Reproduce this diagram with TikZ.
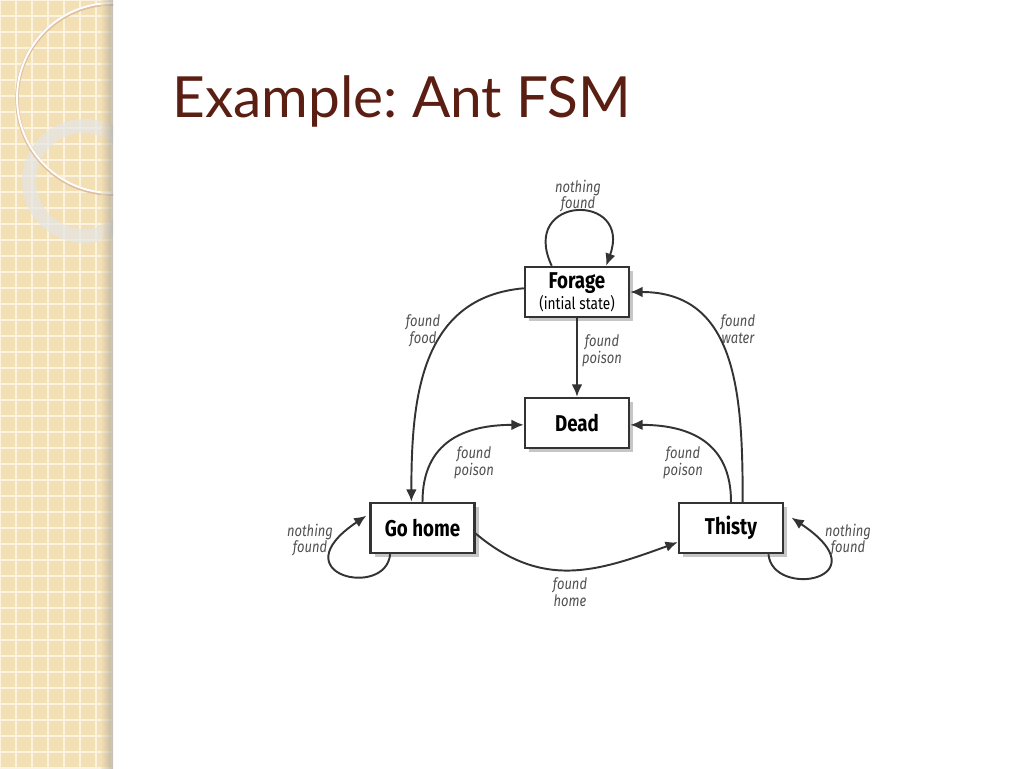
\documentclass[tikz,border=0pt]{standalone}
\usepackage{fontspec}
\usetikzlibrary{arrows.meta,shadows}
\newfontfamily\titlefont{Lato}
\newfontfamily\fsmfont[FakeStretch=0.82]{Fira Sans}
\definecolor{titlebrown}{HTML}{5A1E12}
\definecolor{stripbeige}{HTML}{F2DFB4}
\definecolor{gridcream}{HTML}{FBF3DF}
\definecolor{inkgray}{HTML}{333333}
\definecolor{labelgray}{HTML}{505050}
\tikzset{
  state/.style={draw=inkgray, line width=1.4pt, fill=white, align=center,
    minimum width=2.08cm, minimum height=1cm, inner sep=0pt,
    font=\fsmfont\bfseries\fontsize{13}{13}\selectfont,
    drop shadow={shadow xshift=2.5pt, shadow yshift=-2.5pt, opacity=0.45, fill=gray}},
  trans/.style={draw=inkgray, line width=1.1pt, -{Latex[length=7pt,width=6pt]}},
  cond/.style={text=labelgray, align=center, inner sep=0pt,
    font=\fsmfont\itshape\fontsize{9}{9.6}\selectfont},
}
\begin{document}
\begin{tikzpicture}[x=0.02cm, y=0.02cm]
  \useasboundingbox (0,0) rectangle (1024,768);
  % side strip
  \fill[stripbeige] (0,0) rectangle (113,768);
  \begin{scope}
    \clip (0,0) rectangle (113,768);
    \draw[gridcream, line width=1.2pt] (0,0) grid[step=0.32cm] (113,768);
    \draw[white!80!gray, line width=8pt, opacity=0.7] (84,587) circle (55);
    \draw[brown!50, line width=2pt] (112,669) circle (95);
    \draw[white, line width=1.1pt] (112,670) circle (95);
    \shade[left color=stripbeige, right color=black!45, opacity=0.5] (101,0) rectangle (113,768);
  \end{scope}
  % title
  \node[anchor=base west, inner sep=0pt, text=titlebrown,
    font=\titlefont\fontsize{32.3}{40}\selectfont] (title) at (172,650) {Example:\ Ant FSM};
  % states
  \node[state] (forage) at (577,476)
    {Forage\\[-1pt]{\mdseries\fontsize{9.5}{10}\selectfont (intial state)}};
  \node[state] (dead) at (577,345) {Dead};
  \node[state] (gohome) at (422.5,240) {Go home};
  \node[state] (thisty) at (731,240) {Thisty};
  % transitions
  \draw[trans] (forage.134) to[out=115, in=70, looseness=3.7] (forage.42);
  \draw[trans] (forage.176) to[out=185, in=90, looseness=1.1] (gohome.113);
  \draw[trans] (forage) -- (dead);
  \draw[trans] (gohome.north) to[out=90, in=180, looseness=1.2] (dead.182);
  \draw[trans] (thisty.north) to[out=90, in=0, looseness=1.2] (dead.-2);
  \draw[trans] (thisty.66) to[out=90, in=0, looseness=1.15] (forage.east);
  \draw[trans] (gohome.-6) to[out=-40, in=200, looseness=1.1] (thisty.195);
  \draw[trans, shorten >=2pt] (gohome.219) .. controls +(-4,-45) and +(-91,-61) .. (gohome.165);
  \draw[trans, shorten >=5pt] (thisty.-35) .. controls +(4,-45) and +(100,-67) .. (thisty.16);
  % conditions
  \node[cond] (lfoundf) at (578,572) {nothing\\found};
  \node[cond] (lfood) at (423,437) {found\\food};
  \node[cond] (lpoison) at (602,417) {found\\poison};
  \node[cond] (lpoisong) at (474,305) {found\\poison};
  \node[cond] (lpoisont) at (683,305) {found\\poison};
  \node[cond] (lwater) at (738,439) {found\\water};
  \node[cond] (lhome) at (570,176) {found\\home};
  \node[cond] (lfoundg) at (310,228) {nothing\\found};
  \node[cond] (lfoundt) at (848,228) {nothing\\found};
\end{tikzpicture}
\end{document}
